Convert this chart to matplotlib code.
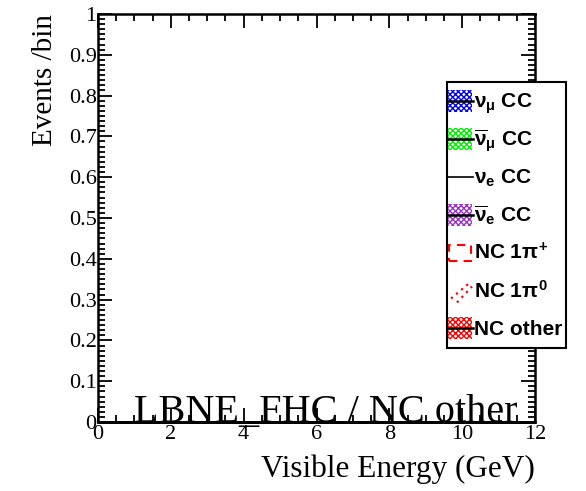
import numpy as np
import matplotlib
matplotlib.use("Agg")
import matplotlib.pyplot as plt
from matplotlib.patches import Rectangle
from matplotlib.lines import Line2D
from matplotlib.ticker import MultipleLocator, AutoMinorLocator, FuncFormatter

plt.rcParams["mathtext.fontset"] = "custom"
plt.rcParams["mathtext.rm"] = "Liberation Sans:bold"
plt.rcParams["mathtext.it"] = "Liberation Sans:bold"
plt.rcParams["mathtext.bf"] = "Liberation Sans:bold"
plt.rcParams["hatch.linewidth"] = 1.0

# ---- data ----
bin_edges = [0.0, 0.5, 1.0, 1.5, 2.0, 2.5, 3.0, 3.5, 4.0, 4.5, 5.0, 5.5, 6.0,
             6.5, 7.0, 7.5, 8.0, 8.5, 9.0, 9.5, 10.0, 10.5, 11.0, 11.5, 12.0]
numu_cc    = [0, 0, 0, 0, 0, 0, 0, 0, 0, 0, 0, 0, 0, 0, 0, 0, 0, 0, 0, 0, 0, 0, 0, 0]
numubar_cc = [0, 0, 0, 0, 0, 0, 0, 0, 0, 0, 0, 0, 0, 0, 0, 0, 0, 0, 0, 0, 0, 0, 0, 0]
nue_cc     = [0, 0, 0, 0, 0, 0, 0, 0, 0, 0, 0, 0, 0, 0, 0, 0, 0, 0, 0, 0, 0, 0, 0, 0]
nuebar_cc  = [0, 0, 0, 0, 0, 0, 0, 0, 0, 0, 0, 0, 0, 0, 0, 0, 0, 0, 0, 0, 0, 0, 0, 0]
nc_1pip    = [0, 0, 0, 0, 0, 0, 0, 0, 0, 0, 0, 0, 0, 0, 0, 0, 0, 0, 0, 0, 0, 0, 0, 0]
nc_1pi0    = [0, 0, 0, 0, 0, 0, 0, 0, 0, 0, 0, 0, 0, 0, 0, 0, 0, 0, 0, 0, 0, 0, 0, 0]
nc_other   = [0, 0, 0, 0, 0, 0, 0, 0, 0, 0, 0, 0, 0, 0, 0, 0, 0, 0, 0, 0, 0, 0, 0, 0]

legend_labels = [r"$\nu_{\mu}$ CC", r"$\overline{\nu}_{\mu}$ CC", r"$\nu_{e}$ CC",
                 r"$\overline{\nu}_{e}$ CC", r"NC 1$\pi^{+}$", r"NC 1$\pi^{0}$", "NC other"]
legend_colors = ["blue", "#00ee00", "black", "#9933cc", "red", "red", "red"]
legend_kinds = ["hatch", "hatch", "line", "hatch", "dashbox", "dotdiag", "hatch"]
title_text = "LBNE_FHC / NC other"
xlabel = "Visible Energy (GeV)"
ylabel = "Events /bin"

W, H = 586, 491
fig = plt.figure(figsize=(W / 100, H / 100), dpi=100)
ax = fig.add_axes([98 / W, 1 - 422 / H, (535 - 98) / W, (422 - 14) / H])

serif = "Liberation Serif"

# histograms (stacked step)
stack = np.zeros(len(bin_edges) - 1)
for vals in [numu_cc, numubar_cc, nue_cc, nuebar_cc, nc_1pip, nc_1pi0, nc_other]:
    stack = stack + np.array(vals, dtype=float)
    ax.stairs(stack, bin_edges, color="black", linewidth=2, clip_on=False, zorder=3)

ax.set_xlim(0, 12)
ax.set_ylim(0, 1)
ax.xaxis.set_major_locator(MultipleLocator(2))
ax.xaxis.set_minor_locator(MultipleLocator(0.5))
ax.yaxis.set_major_locator(MultipleLocator(0.1))
ax.yaxis.set_minor_locator(AutoMinorLocator(8))
ax.tick_params(which="both", direction="in", top=True, right=True, width=1.3,
               labelsize=16, colors="black")
ax.tick_params(which="major", length=10)
ax.tick_params(which="minor", length=5)
ax.tick_params(axis="x", pad=2)
ax.tick_params(axis="y", pad=1)
ax.xaxis.set_major_formatter(FuncFormatter(lambda v, p: f"{v:g}"))
ax.yaxis.set_major_formatter(FuncFormatter(lambda v, p: f"{v:g}"))
for lab in ax.get_xticklabels() + ax.get_yticklabels():
    lab.set_fontfamily(serif)
for s in ax.spines.values():
    s.set_linewidth(1.8)

ax.set_xlabel(xlabel, fontsize=22.5, family=serif, loc="right", labelpad=8)
ax.set_ylabel(ylabel, fontsize=21, family=serif, loc="top", labelpad=8)

ax.text(0.522, 0.0, title_text, transform=ax.transAxes, ha="center", va="baseline",
        fontsize=29, family=serif, zorder=4)

# ---- legend box (ROOT TLegend style), laid out in figure pixels ----
def fx(px):
    return px / W

def fy(py):
    return 1 - py / H

tf = fig.transFigure
box_l, box_r, box_t, box_b = 447, 566, 82, 348
fig.add_artist(Rectangle((fx(box_l), fy(box_b)), fx(box_r) - fx(box_l), fy(box_t) - fy(box_b),
                         transform=tf, facecolor="white", edgecolor="black", linewidth=1.5,
                         zorder=5))
row0, drow = 101, 37.9
sw_l, sw_r = 448, 472
for i, (lab, col, kind) in enumerate(zip(legend_labels, legend_colors, legend_kinds)):
    yc = row0 + i * drow
    if kind == "hatch":
        fig.add_artist(Rectangle((fx(sw_l), fy(yc + 11)), fx(sw_r) - fx(sw_l), fy(yc - 11) - fy(yc + 11),
                                 transform=tf, facecolor="none", edgecolor=col, hatch="xxxxxx",
                                 linewidth=0, zorder=6))
        fig.add_artist(Line2D([fx(box_l), fx(sw_r + 1)], [fy(yc), fy(yc)], transform=tf,
                              color="black", linewidth=1.8, zorder=7))
    elif kind == "line":
        fig.add_artist(Line2D([fx(box_l), fx(sw_r + 1)], [fy(yc), fy(yc)], transform=tf,
                              color=col, linewidth=1.2, zorder=7))
    elif kind == "dashbox":
        fig.add_artist(Rectangle((fx(sw_l + 1), fy(yc + 8)), fx(sw_r - 1) - fx(sw_l + 1),
                                 fy(yc - 8) - fy(yc + 8), transform=tf, facecolor="none",
                                 edgecolor=col, linestyle=(0, (4, 3)), linewidth=1.5, zorder=6))
    elif kind == "dotdiag":
        fig.add_artist(Line2D([fx(sw_l + 3), fx(sw_r - 2)], [fy(yc + 8), fy(yc - 8)], transform=tf,
                              color=col, linestyle=(0, (1, 2)), linewidth=1.6, zorder=6))
        fig.add_artist(Line2D([fx(sw_l + 9), fx(sw_r)], [fy(yc + 12), fy(yc - 4)], transform=tf,
                              color=col, linestyle=(0, (1, 2)), linewidth=1.6, zorder=6))
    fig.text(fx(474), fy(yc + 7), lab, transform=tf, ha="left", va="baseline",
             fontsize=15, family="Liberation Sans", weight="bold", zorder=8)

fig.savefig("out.png", dpi=100)
